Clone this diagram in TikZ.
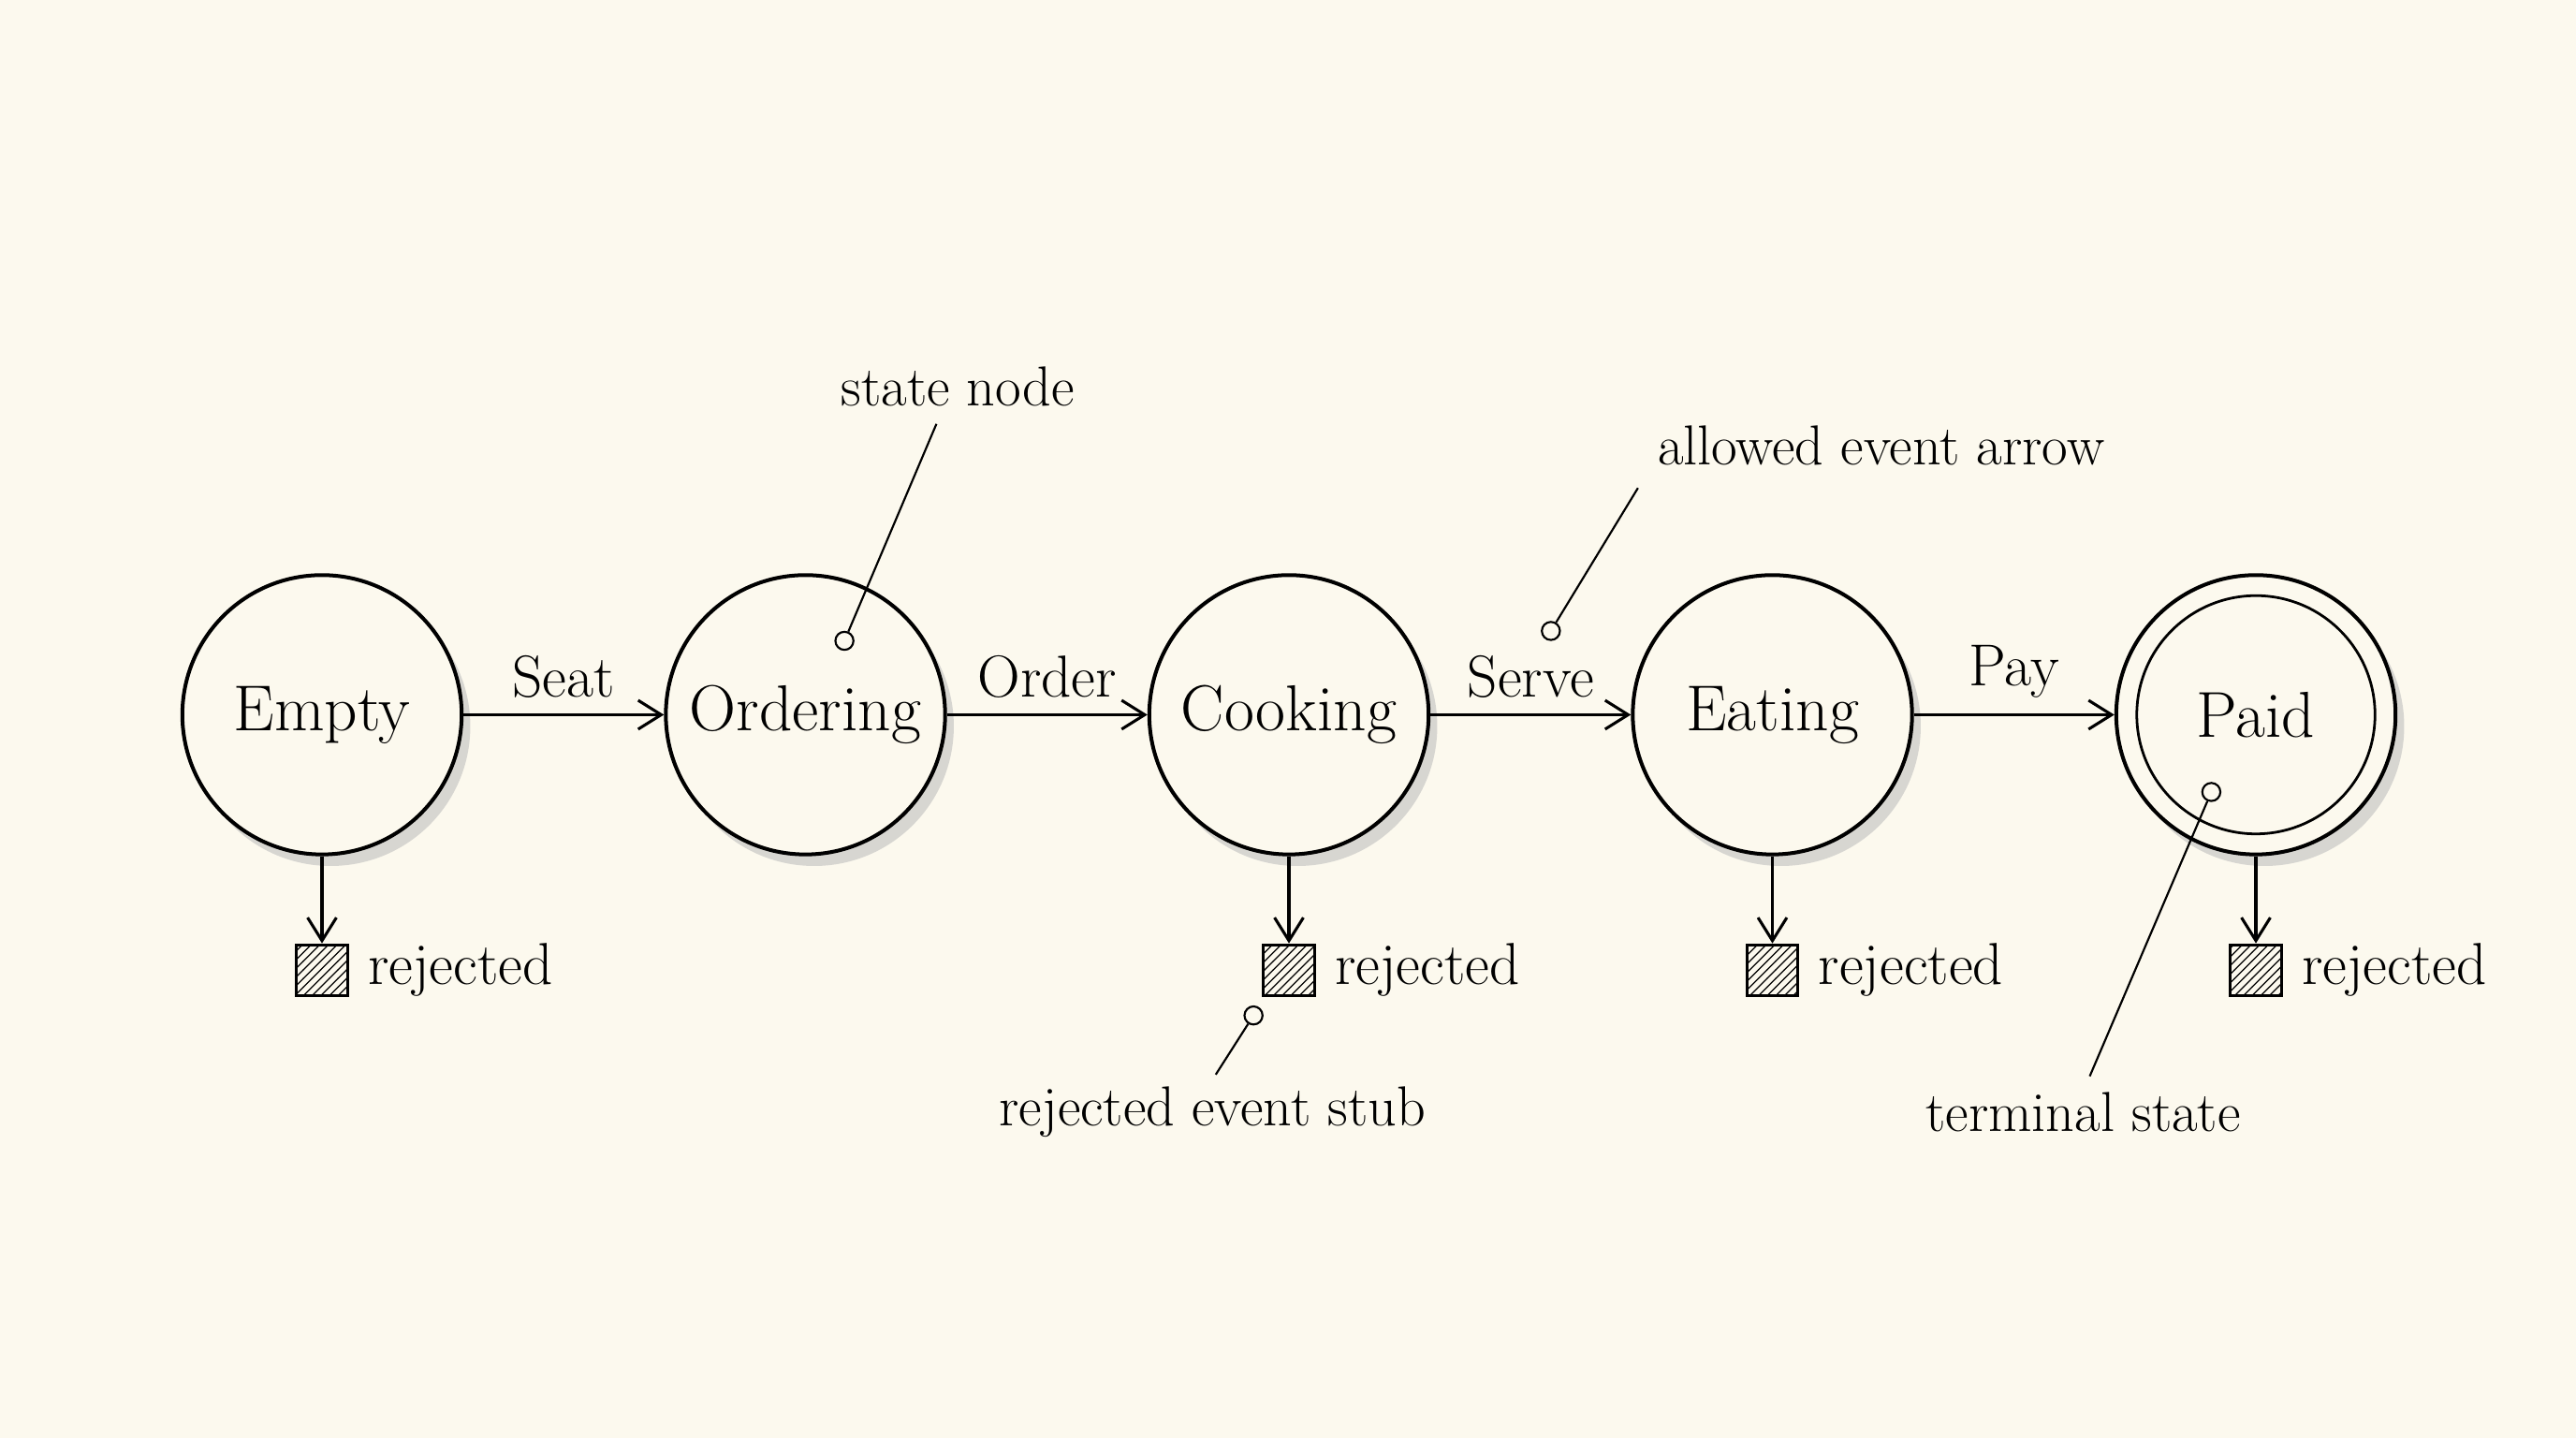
\documentclass[tikz,border=0pt]{standalone}
\usepackage{amsmath}
\usetikzlibrary{positioning, arrows.meta, shadows, patterns}
\definecolor{paper}{HTML}{FCF9EE}
\tikzset{
  state/.style={circle, draw, line width=1.3pt, minimum size=3.4cm, fill=paper,
    font=\fontsize{22.5}{26}\selectfont,
    drop shadow={shadow xshift=3pt, shadow yshift=-4pt, fill=black!25, opacity=.6}},
  stub/.style={draw, line width=1pt, minimum size=0.62cm, inner sep=0pt,
    pattern=north east lines},
  rej/.style={font=\fontsize{20.5}{24}\selectfont, right=0.1cm},
  evt/.style={font=\fontsize{20.5}{24}\selectfont, above=2pt},
  note/.style={font=\fontsize{19.5}{23}\selectfont},
  pin/.style={circle, draw, fill=paper, line width=0.7pt, minimum size=0.22cm, inner sep=0pt},
}
\begin{document}
\begin{tikzpicture}[>={Straight Barb[length=8pt, width=10pt]}, line width=1pt, node distance=2.44cm]
  \fill[paper] (0,0) rectangle (31.36,-17.5);
  \useasboundingbox (0,0) rectangle (31.36,-17.5);

  % states
  \node[state] (empty) at (3.92,-8.7) {Empty};
  \node[state, right=of empty] (ordering) {Ordering};
  \node[state, right=of ordering] (cooking) {Cooking};
  \node[state, right=of cooking] (eating) {Eating};
  \node[state, right=of eating] (paid) {Paid};
  \draw[line width=0.9pt] (paid.center) circle (1.45cm);

  % allowed events
  \draw[->] (empty) -- node[evt] {Seat} (ordering);
  \draw[->] (ordering) -- node[evt] {Order} (cooking);
  \draw[->] (cooking) -- node[evt] {Serve} (eating);
  \draw[->] (eating) -- node[evt] {Pay} (paid);

  % rejected stubs
  \foreach \s in {empty, cooking, eating, paid} {
    \node[stub, below=1.06cm of \s.south] (\s-stub) {};
    \node[rej] at (\s-stub.east) [anchor=west] {rejected};
    \draw[->] (\s.south) -- (\s-stub.north);
  }

  % annotations
  \node[note] (n1) at (11.66,-4.7) {state node};
  \node[pin] (p1) at (10.28,-7.8) {};
  \draw[line width=0.7pt] (11.4,-5.16) -- (p1);

  \node[note] (n2) at (22.9,-5.42) {allowed event arrow};
  \node[pin] (p2) at (18.88,-7.68) {};
  \draw[line width=0.7pt] (19.94,-5.94) -- (p2);

  \node[note] (n3) at (14.76,-13.54) {rejected event stub};
  \node[pin] (p3) at (15.26,-12.36) {};
  \draw[line width=0.7pt] (14.8,-13.08) -- (p3);

  \node[note] (n4) at (25.36,-13.54) {terminal state};
  \node[pin] (p4) at (26.92,-9.64) {};
  \draw[line width=0.7pt] (25.44,-13.1) -- (p4);
\end{tikzpicture}
\end{document}
